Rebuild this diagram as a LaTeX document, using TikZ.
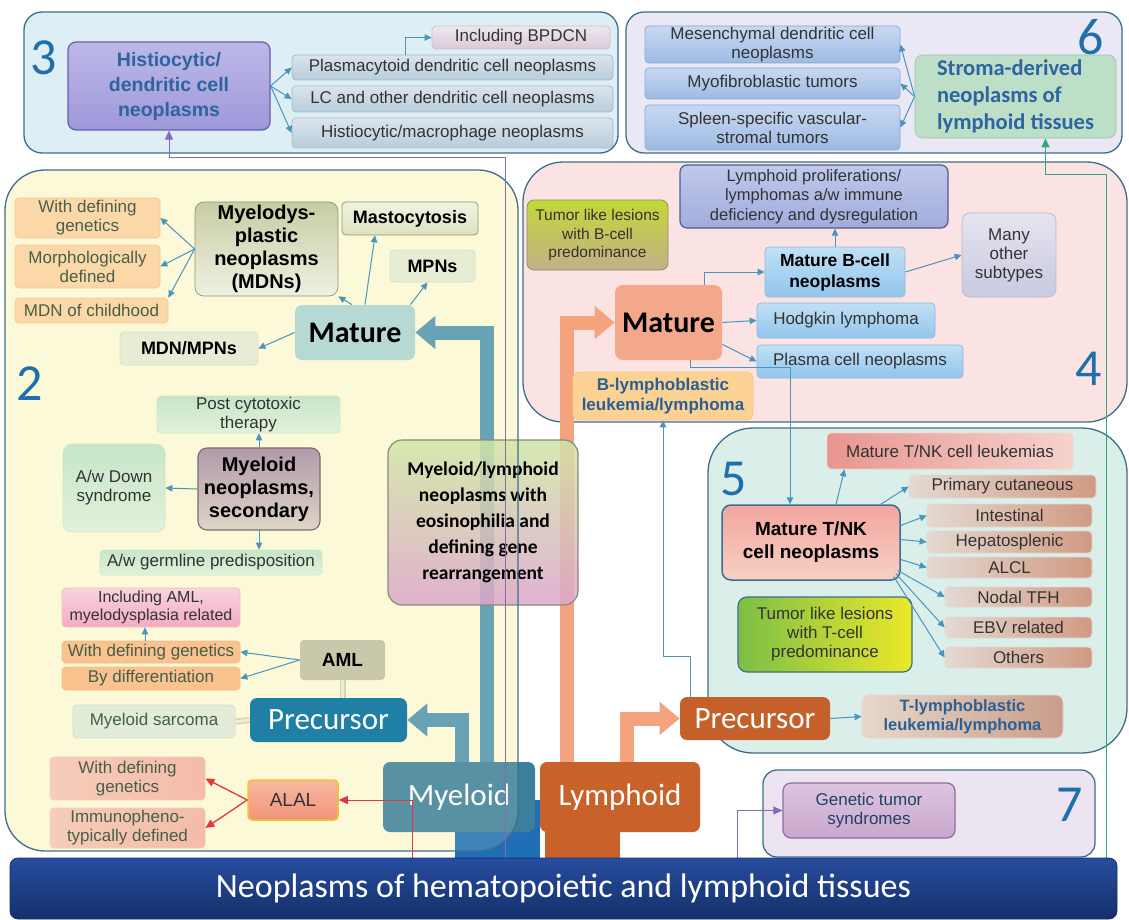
\documentclass[tikz,border=0pt]{standalone}
\usepackage{fontspec}
\setmainfont{Liberation Sans}
\newfontfamily\carlito{Carlito}
\usetikzlibrary{arrows.meta,positioning,calc,backgrounds}
\tikzset{every picture/.style={line width=0.75pt}}
\newcommand{\fsz}[2]{\fontsize{#1}{#2}\selectfont}

% lines and text
\definecolor{rim}{HTML}{3F6E8C}
\definecolor{numblue}{HTML}{1F6FAE}
\definecolor{txt}{HTML}{333333}
\definecolor{ogreen}{HTML}{45604A}
\definecolor{navytxt}{HTML}{2E64A0}
\definecolor{blutxt}{HTML}{2C5F93}
\definecolor{arrblue}{HTML}{4A95BC}
\definecolor{redline}{HTML}{E2383C}
\definecolor{purpline}{HTML}{8A68B8}
\definecolor{greenline}{HTML}{2EAA7A}
\definecolor{tealbar}{HTML}{4F95B0}
\definecolor{orbar}{HTML}{F5A37E}
\definecolor{dblA}{HTML}{D6D2B6}
\definecolor{dblB}{HTML}{EEECDD}
% panels
\definecolor{pthree}{HTML}{DDEEF5}
\definecolor{psix}{HTML}{E9E8F4}
\definecolor{ptwo}{HTML}{FBF9D7}
\definecolor{pfour}{HTML}{FBE3E3}
\definecolor{pfive}{HTML}{DAEEEA}
\definecolor{pseven}{HTML}{EDE4F2}
% boxes
\definecolor{histA}{HTML}{BDB8E8}\definecolor{histB}{HTML}{9E98D9}\definecolor{histE}{HTML}{6A5DA8}
\definecolor{bpA}{HTML}{EFE8EF}\definecolor{bpB}{HTML}{D9C9D7}\definecolor{bpE}{HTML}{D0C0CE}
\definecolor{gyA}{HTML}{DAE5ED}\definecolor{gyB}{HTML}{B9CCDA}\definecolor{gyE}{HTML}{A5BBCB}
\definecolor{msA}{HTML}{C8D9F1}\definecolor{msB}{HTML}{9DBAE4}\definecolor{msE}{HTML}{8BA7D0}
\definecolor{stA}{HTML}{BDDFC8}\definecolor{stE}{HTML}{9CC8AA}
\definecolor{tlA}{HTML}{C2D838}\definecolor{tlM}{HTML}{F6EF2C}\definecolor{tlB}{HTML}{C4AF88}\definecolor{tlE}{HTML}{8D8C6A}
\definecolor{lpA}{HTML}{C0C8EC}\definecolor{lpB}{HTML}{A2ACDC}\definecolor{lpE}{HTML}{4E5F8E}
\definecolor{blA}{HTML}{C0E0F6}\definecolor{blB}{HTML}{93C5EC}\definecolor{blE}{HTML}{8EB9D9}
\definecolor{mnA}{HTML}{E5E4F0}\definecolor{mnB}{HTML}{C9C9E0}\definecolor{mnE}{HTML}{B9B9D1}
\definecolor{mtwo}{HTML}{F3A78B}
\definecolor{blbF}{HTML}{FBD294}\definecolor{blbE}{HTML}{F4C786}
\definecolor{rdA}{HTML}{E8958F}\definecolor{rdB}{HTML}{F5D3CE}
\definecolor{tnA}{HTML}{E4D9D2}\definecolor{tnB}{HTML}{D09A82}
\definecolor{mtA}{HTML}{F2A69E}\definecolor{mtB}{HTML}{F7D0C5}
\definecolor{ttA}{HTML}{7CBF46}\definecolor{ttB}{HTML}{ECE828}
\definecolor{pctwo}{HTML}{C6602B}
\definecolor{tlbA}{HTML}{E7D8CB}\definecolor{tlbB}{HTML}{C99D89}
\definecolor{gtA}{HTML}{DDC5E0}\definecolor{gtB}{HTML}{C8A7CD}\definecolor{gtE}{HTML}{8C6E9C}
\definecolor{orA}{HTML}{FCD7A8}\definecolor{orE}{HTML}{F6CB98}
\definecolor{mdA}{HTML}{C8CCA4}\definecolor{mdB}{HTML}{EFF1E1}\definecolor{mdE}{HTML}{8F9878}
\definecolor{maA}{HTML}{F1F3E1}\definecolor{maB}{HTML}{DDE2C1}
\definecolor{mpA}{HTML}{E7EDD4}\definecolor{mpE}{HTML}{D8E0C2}
\definecolor{mone}{HTML}{B6D9D4}
\definecolor{grA}{HTML}{C6E6C9}\definecolor{grB}{HTML}{E3F1DB}\definecolor{grE}{HTML}{CFE6CC}
\definecolor{nsA}{HTML}{B19AAB}\definecolor{nsB}{HTML}{DED5C7}\definecolor{nsE}{HTML}{7D6B6E}
\definecolor{inA}{HTML}{F9D3DD}\definecolor{inB}{HTML}{F3ABC7}\definecolor{inE}{HTML}{F6C3A6}
\definecolor{otA}{HTML}{F9C28E}\definecolor{otE}{HTML}{F4BB88}
\definecolor{amlF}{HTML}{CAC8AA}
\definecolor{pcone}{HTML}{1F7FA4}
\definecolor{msF}{HTML}{E3EBD9}\definecolor{msG}{HTML}{D6E0CA}
\definecolor{alA}{HTML}{F7BAA2}\definecolor{alB}{HTML}{F2937A}\definecolor{alE}{HTML}{F2C230}
\definecolor{saA}{HTML}{F6CCBA}\definecolor{saB}{HTML}{EFA08A}\definecolor{saC}{HTML}{F4BCA8}
\definecolor{mye}{HTML}{3C7F9C}\definecolor{lym}{HTML}{C8612A}\definecolor{blueext}{HTML}{1E6FB5}
\definecolor{mlA}{HTML}{D1E6A6}\definecolor{mlM}{HTML}{E6CBB1}\definecolor{mlB}{HTML}{DCA6CB}\definecolor{mlE}{HTML}{8C8A7C}
\definecolor{bnA}{HTML}{284D9F}\definecolor{bnB}{HTML}{14306A}

\begin{document}
\begin{tikzpicture}[x=1pt,y=-1pt,
    panel/.style={draw=rim, line width=1.3pt, rounded corners=#1},
    bx/.style={rounded corners=4pt, align=center, inner sep=1pt, text=txt, font=\fsz{17}{19}},
    sz/.style 2 args={minimum width=#1pt, minimum height=#2pt},
    big/.style={rounded corners=7pt, inner sep=0pt, text=white, font=\carlito\fsz{31}{33}},
    num/.style={font=\carlito\fsz{52}{52}, text=numblue, inner sep=0pt},
    arr/.style={draw=arrblue, line width=1pt, -{Triangle[length=7pt,width=6.5pt]}},
    rarr/.style={draw=redline, line width=1.3pt, -{Triangle[length=9pt,width=8pt]}},
    parr/.style={draw=purpline, line width=1pt, -{Triangle[length=9pt,width=8pt]}},
    garr/.style={draw=greenline, line width=1pt, -{Triangle[length=9pt,width=8pt]}},
    fat/.style={line width=14pt, -{Triangle[length=20pt,width=32pt]}},
    dbl/.style={draw=dblA, double=dblB, double distance=3pt, line width=1.5pt},
    pdcbox/.style={top color=gyA, bottom color=gyB, draw=gyE},
    mesbox/.style={top color=msA, bottom color=msB, draw=msE},
    bbox/.style={top color=blA, bottom color=blB, draw=blE},
    tnbox/.style={left color=tnA, right color=tnB, draw=tnA},
    orbox/.style={fill=orA, draw=orE, text=ogreen},
    grbox/.style={top color=grA, bottom color=grB, draw=grE},
    salbox/.style={left color=saA, middle color=saB, right color=saC, draw=saA, text=ogreen},
  ]
\useasboundingbox (0,0) rectangle (1129,920);

% panels
\begin{scope}[on background layer]
  \fill[white] (0,0) rectangle (1129,920);
  \draw[panel=18pt, fill=pthree] (24,12) rectangle (618,153);
  \draw[panel=18pt, fill=psix] (626,12) rectangle (1122,153);
  \draw[panel=40pt, fill=pfour] (523,162) rectangle (1127,422);
  \draw[panel=45pt, fill=pfive] (708,428) rectangle (1127,753);
  \draw[panel=14pt, fill=pseven] (763,770) rectangle (1095,857);
  \fill[rounded corners=40pt, fill=ptwo] (5,170) rectangle (518,851);
  \fill[blueext] (455,800) rectangle (540,862);
  \fill[lym] (545,810) rectangle (620,862);
\end{scope}

% myeloid / lymphoid
\node[big, fill=mye, sz={152}{70}] (myel) at (459,797) {Myeloid};
\node[big, fill=lym, sz={160}{70}] (lymp) at (620,797) {Lymphoid};
\fill[rounded corners=40pt, fill=ptwo, fill opacity=0.15] (5,170) rectangle (518,851);

% panel 3
\node[num] (n3) at (44,58) {3};
\node[bx, sz={202}{88}, top color=histA, bottom color=histB, draw=histE, line width=1.2pt,
      rounded corners=8pt, text=navytxt, font=\bfseries\fsz{19.5}{25}] (hist) at (169,86)
      {Histiocytic/\\dendritic cell\\neoplasms};
\node[bx, sz={178}{23}, top color=bpA, bottom color=bpB, draw=bpE] (bpdcn) at (521,37.5) {Including BPDCN};
\node[bx, pdcbox, sz={321}{25}] (pdc) at (452.5,67.5) {Plasmacytoid dendritic cell neoplasms};
\node[bx, pdcbox, sz={321}{26}] (lc) at (452.5,99) {LC and other dendritic cell neoplasms};
\node[bx, pdcbox, sz={321}{30}] (hm) at (452.5,133) {Histiocytic/macrophage neoplasms};

% panel 6
\node[num] (n6) at (1091,37) {6};
\node[bx, mesbox, sz={255}{37}] (mesen) at (772.5,44.5) {Mesenchymal dendritic cell\\neoplasms};
\node[bx, mesbox, sz={255}{31}] (myofib) at (772.5,83.5) {Myofibroblastic tumors};
\node[bx, mesbox, sz={255}{45}] (spleen) at (772.5,127.5) {Spleen-specific vascular-\\stromal tumors};
\node[bx, sz={201}{83}, fill=stA, draw=stE, rounded corners=8pt, align=left, text=navytxt,
      font=\carlito\bfseries\fsz{22.5}{27}] (stroma) at (1015.5,96.5)
      {Stroma-derived\\neoplasms of\\lymphoid tissues};

% panel 4
\node[num] (n4) at (1089,369) {4};
\node[bx, sz={141}{70}, top color=tlA, middle color=tlM, bottom color=tlB, draw=tlE,
      rounded corners=7pt, font=\fsz{15.5}{18.5}] (tlb) at (597.5,235)
      {Tumor like lesions\\with B-cell\\predominance};
\node[bx, sz={268}{63}, top color=lpA, bottom color=lpB, draw=lpE, line width=1.2pt,
      rounded corners=7pt, font=\fsz{16.5}{19.5}] (lpd) at (814,196.5)
      {Lymphoid proliferations/\\lymphomas a/w immune\\deficiency and dysregulation};
\node[bx, bbox, sz={140}{50}, text=black, font=\bfseries\fsz{17.5}{21}] (mbc) at (835,272) {Mature B-cell\\neoplasms};
\node[bx, sz={94}{84}, top color=mnA, bottom color=mnB, draw=mnE, rounded corners=8pt] (many) at (1009,255) {Many\\other\\subtypes};
\node[bx, sz={107}{75}, fill=mtwo, rounded corners=8pt, text=black, font=\carlito\bfseries\fsz{30}{32}] (mat2) at (668.5,322.5) {Mature};
\node[bx, bbox, sz={178}{35}] (hodg) at (846,320.5) {Hodgkin lymphoma};
\node[bx, bbox, sz={206}{33}] (plas) at (860,361.5) {Plasma cell neoplasms};
\node[bx, sz={180}{48}, fill=blbF, draw=blbE, rounded corners=7pt, text=blutxt, font=\bfseries\fsz{17}{20}] (blb) at (663,396)
      {B-lymphoblastic\\leukemia/lymphoma};

% panel 5
\node[num] (n5) at (734,479) {5};
\node[bx, sz={246}{36}, left color=rdA, right color=rdB, draw=rdB] (mtl) at (950,451) {Mature T/NK cell leukemias};
\node[bx, tnbox, sz={187}{23}] (pcut) at (1002.5,486.5) {Primary cutaneous};
\node[bx, tnbox, sz={165}{23}] (intest) at (1009.5,515.5) {Intestinal};
\node[bx, tnbox, sz={165}{22}] (hepa) at (1009.5,542) {Hepatosplenic};
\node[bx, tnbox, sz={165}{21}] (alcl) at (1009.5,567.5) {ALCL};
\node[bx, tnbox, sz={147}{20}] (tfh) at (1018.5,597) {Nodal TFH};
\node[bx, tnbox, sz={147}{21}] (ebv) at (1018.5,627.5) {EBV related};
\node[bx, tnbox, sz={147}{21}] (oth) at (1018.5,657.5) {Others};
\node[bx, sz={178}{75}, top color=mtA, bottom color=mtB, draw=rim, line width=1.5pt, rounded corners=9pt,
      text=black, font=\bfseries\fsz{19}{23}] (mtnk) at (811,542.5) {Mature T/NK\\cell neoplasms};
\node[bx, sz={174}{75}, left color=ttA, right color=ttB, draw=rim, line width=1.2pt, rounded corners=9pt] (ttl) at (825,634.5)
      {Tumor like lesions\\with T-cell\\predominance};
\node[big, fill=pctwo, sz={150}{43}] (prec2) at (755,718.5) {Precursor};
\node[bx, sz={201}{43}, left color=tlbA, right color=tlbB, draw=tlbA, rounded corners=7pt, text=blutxt,
      font=\bfseries\fsz{16.5}{19}] (tlbl) at (962.5,716.5) {T-lymphoblastic\\leukemia/lymphoma};

% panel 7
\node[num] (n7) at (1070,805) {7};
\node[bx, sz={172}{55}, top color=gtA, bottom color=gtB, draw=gtE, line width=1.2pt, rounded corners=8pt,
      text=blutxt!70!black] (gts) at (869,810.5) {Genetic tumor\\syndromes};

% panel 2
\node[num] (n2) at (30,384) {2};
\node[bx, orbox, sz={145}{40}] (wdg1) at (87.5,218) {With defining\\genetics};
\node[bx, orbox, sz={145}{43}] (morph) at (87.5,266.5) {Morphologically\\defined};
\node[bx, orbox, sz={153}{25}] (mdnc) at (91.5,310.5) {MDN of childhood};
\node[bx, sz={143}{94}, top color=mdA, bottom color=mdB, draw=mdE, rounded corners=9pt, text=black,
      font=\bfseries\fsz{20}{23}] (mdns) at (266.5,249) {Myelodys-\\plastic\\neoplasms\\(MDNs)};
\node[bx, sz={136}{33}, top color=maA, bottom color=maB, draw=mdE, text=black, font=\bfseries\fsz{18}{20}] (masto) at (410,218.5) {Mastocytosis};
\node[bx, sz={85}{32}, fill=mpA, draw=mpE, text=black, font=\bfseries\fsz{18}{20}] (mpns) at (432.5,266) {MPNs};
\node[bx, sz={120}{55}, fill=mone, rounded corners=7pt, text=black, font=\carlito\bfseries\fsz{30}{32}] (mat1) at (355,332.5) {Mature};
\node[bx, sz={138}{33}, fill=mpA, draw=mpE, text=black, font=\bfseries\fsz{18}{20}] (mdnmpn) at (189,348.5) {MDN/MPNs};
\node[bx, grbox, sz={183}{35}] (pct) at (248.5,414.5) {Post cytotoxic\\therapy};
\node[bx, grbox, sz={102}{88}, rounded corners=9pt] (ads) at (114,488) {A/w Down\\syndrome};
\node[bx, sz={122}{82}, top color=nsA, bottom color=nsB, draw=nsE, line width=1.1pt, rounded corners=9pt,
      text=black, font=\bfseries\fsz{20}{23}] (mns) at (259,489) {Myeloid\\neoplasms,\\secondary};
\node[bx, grbox, sz={222}{25}] (agp) at (211,562.5) {A/w germline predisposition};
\node[bx, sz={178}{39}, top color=inA, bottom color=inB, draw=inE, font=\fsz{16}{18.5}] (incl) at (151,607.5)
      {Including AML,\\myelodysplasia related};
\node[bx, sz={178}{22}, fill=otA, draw=otE, text=ogreen] (wdg2) at (151,652) {With defining genetics};
\node[bx, sz={178}{23}, fill=otA, draw=otE, text=ogreen] (bydiff) at (151,678.5) {By differentiation};
\node[bx, sz={85}{40}, fill=amlF, text=black, font=\bfseries\fsz{19}{21}] (aml) at (342.5,660) {AML};
\node[big, fill=pcone, sz={157}{44}] (prec1) at (328.5,720) {Precursor};
\node[bx, sz={162}{33}, fill=msF, draw=msG, text=ogreen] (msar) at (154,721.5) {Myeloid sarcoma};
\node[bx, sz={90}{40}, top color=alA, bottom color=alB, draw=alE, line width=1.5pt, font=\fsz{19}{21}] (alal) at (293,800) {ALAL};
\node[bx, salbox, sz={155}{43}] (wdg3) at (127.5,778.5) {With defining\\genetics};
\node[bx, salbox, sz={155}{40}] (immuno) at (127.5,828) {Immunopheno-\\typically defined};

% myeloid/lymphoid with eosinophilia
\node[bx, sz={190}{165}, top color=mlA, middle color=mlM, bottom color=mlB, draw=mlE, line width=1.2pt,
      rounded corners=14pt, fill opacity=0.85, text opacity=1, text=black,
      font=\carlito\bfseries\fsz{19.5}{26}] (mlb) at (483,522.5)
      {Myeloid/lymphoid\\neoplasms with\\eosinophilia and\\defining gene\\rearrangement};
\draw[panel=40pt] (5,170) rectangle (518,851);

% thick arrows
\begin{scope}[on background layer]
  \draw[fat, draw=tealbar] ($(myel.north)+(28,0)$) |- (mat1.east);
  \draw[fat, draw=tealbar] ($(myel.north)+(3,0)$) |- (prec1.east);
  \draw[fat, draw=orbar] ($(lymp.north)+(-53,0)$) |- (mat2.west);
  \draw[fat, draw=orbar] ($(lymp.north)+(7,0)$) |- (prec2.west);
\end{scope}

% arrows, panel 3
\draw[arr] (hist.east) -- (pdc.west);
\draw[arr] (hist.east) -- (lc.west);
\draw[arr] (hist.east) -- (hm.west);
\draw[arr] ($(pdc.north)+(-47,0)$) |- (bpdcn.west);
% panel 6
\draw[arr] (stroma.west) -- (mesen.east);
\draw[arr] (stroma.west) -- (myofib.east);
\draw[arr] (stroma.west) -- (spleen.east);
% panel 2
\draw[arr] (mdns.west) -- (wdg1.east);
\draw[arr] (mdns.west) -- (morph.east);
\draw[arr] (mdns.west) -- (mdnc.north east);
\draw[arr] ($(mat1.north)+(-3,0)$) -- (mdns.south east);
\draw[arr] ($(mat1.north)+(10,0)$) -- ($(masto.south)+(-35,0)$);
\draw[arr] ($(mat1.north east)+(-5,0)$) -- ($(mpns.south)+(-5,0)$);
\draw[arr] (mat1.west) -- (mdnmpn.east);
\draw[arr] (mns.north) -- (mns.north |- pct.south);
\draw[arr] (mns.west) -- (ads.east);
\draw[arr] (mns.south) -- (mns.south |- agp.north);
\draw[arr] (aml.west) -- (wdg2.east);
\draw[arr] (aml.west) -- (bydiff.east);
\draw[arr] ($(wdg2.north)+(-6,0)$) -- ($(incl.south)+(-6,0)$);
\draw[dbl] (aml.south) -- (aml.south |- prec1.north);
\draw[dbl] (prec1.west) -- (msar.east);
\draw[rarr] (alal.west) -- (wdg3.east);
\draw[rarr] (alal.west) -- (immuno.east);
% panel 4
\draw[arr] ($(mat2.north)+(36,0)$) |- (mbc.west);
\draw[arr] (mat2.east) -- (hodg.west);
\draw[arr] ($(mat2.east)+(0,22)$) -- (plas.west);
\draw[arr] (mbc.north) -- (mbc.north |- lpd.south);
\draw[arr] (mbc.east) -- (many.west);
\draw[arr] ($(mat2.south)+(22,0)$) -- ++(0,7) -| ($(mtnk.north)+(-21,0)$);
% panel 5
\draw[arr] ($(mtnk.north)+(25,0)$) -- ($(mtl.south west)+(18,0)$);
\draw[arr] ($(mtnk.north east)+(-20,0)$) -- (pcut.west);
\draw[arr] ($(mtnk.east)+(0,-17)$) -- (intest.west);
\draw[arr] ($(mtnk.east)+(0,-3)$) -- (hepa.west);
\draw[arr] ($(mtnk.east)+(0,17)$) -- (alcl.west);
\draw[arr] ($(mtnk.east)+(-3,28)$) -- (tfh.west);
\draw[arr] ($(mtnk.east)+(-5,31)$) -- (ebv.west);
\draw[arr] ($(mtnk.east)+(-7,34)$) -- (oth.west);
\draw[arr] (prec2.east) -- (tlbl.west);
\draw[arr] ($(prec2.north)+(-65,0)$) -- ++(0,-40) -| (blb.south);

% feet on the banner
\coordinate (hfoot) at (505,858);
\coordinate (sfoot) at (1106,858);
\coordinate (afoot) at (412,858);
\coordinate (gfoot) at (737,858);
\draw[parr] (hfoot) -- ++(0,-700) -| (hist.south);
\draw[garr] (sfoot) -- ++(0,-683) -| ($(stroma.south)+(30,0)$);
\draw[rarr, line width=1pt] (afoot) |- (alal.east);
\draw[parr] (gfoot) |- (gts.west);

% banner
\node[sz={1107}{61}, rounded corners=8pt, top color=bnA, bottom color=bnB, draw=bnB, text=white,
      font=\carlito\fsz{34}{36}] (ban) at (563.5,888.5) {Neoplasms of hematopoietic and lymphoid tissues};
\end{tikzpicture}
\end{document}
